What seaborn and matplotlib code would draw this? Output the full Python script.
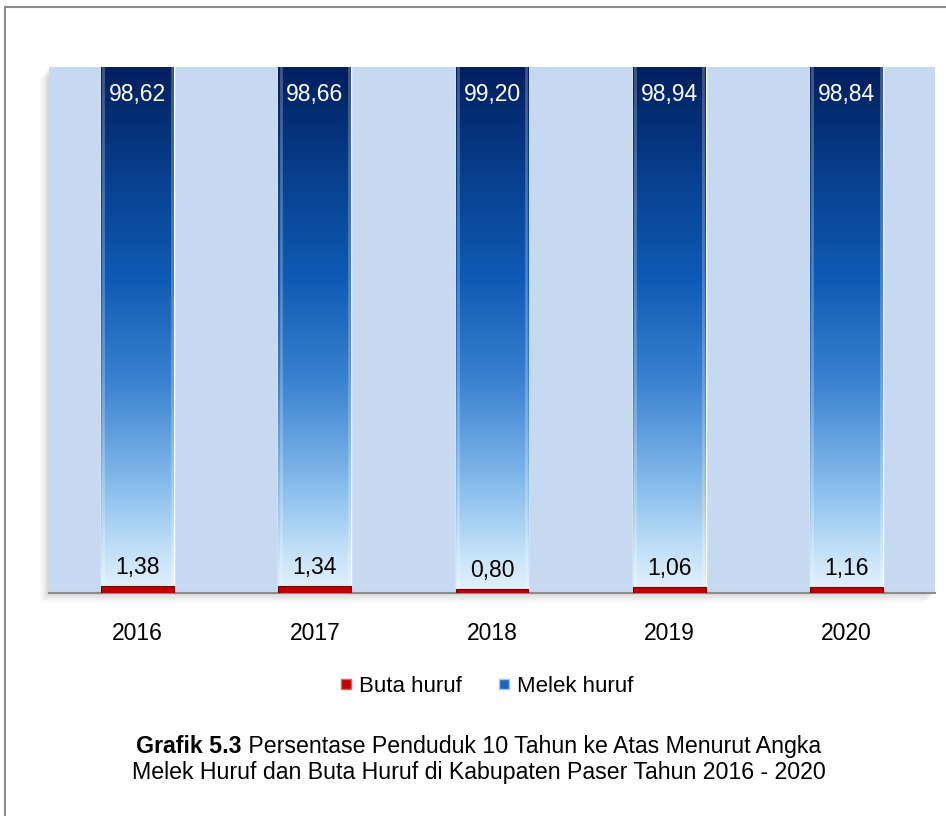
import warnings
warnings.simplefilter(action='ignore', category=UserWarning)

import matplotlib.pyplot as plt
import seaborn as sns
import numpy as np
import pandas as pd
from matplotlib.colors import LinearSegmentedColormap
from matplotlib.patches import Rectangle
from matplotlib.lines import Line2D

years = ["2016", "2017", "2018", "2019", "2020"]
buta = [1.38, 1.34, 0.80, 1.06, 1.16]
melek = [98.62, 98.66, 99.20, 98.94, 98.84]

sns.set_theme(style="white")
plt.rcParams['font.family'] = ['Liberation Sans', 'DejaVu Sans']
plt.rcParams['text.color'] = 'black'

df = pd.DataFrame({"Tahun": years, "Buta huruf": buta, "Melek huruf": melek})
df["Total"] = df["Buta huruf"] + df["Melek huruf"]

fig = plt.figure(figsize=(9.46, 8.16), dpi=100)

# frame around the figure
fig.add_artist(Line2D([0.0053, 0.0053], [0.0, 0.9914], color="#8c8c8c", lw=1.5))
fig.add_artist(Line2D([0.0053, 1.0], [0.9914, 0.9914], color="#8c8c8c", lw=1.5))

ax = fig.add_axes([0.0518, 0.2733, 0.9366, 0.6446])

# soft shadow behind the plot area
for i, a in enumerate([0.05, 0.04, 0.03, 0.02, 0.01]):
    d = 0.002 * (i + 1)
    fig.patches.append(Rectangle((0.0518 - d, 0.2733 - 1.4 * d), 0.9366, 0.6446,
                                 transform=fig.transFigure, color="black", alpha=a,
                                 zorder=-1, lw=0))

ax.set_facecolor("#c6d9f0")

# full bars (melek on top of buta) then buta at the base
sns.barplot(data=df, x="Tahun", y="Total", color="#0b4ea2", width=0.41, ax=ax,
            saturation=1)
sns.barplot(data=df, x="Tahun", y="Buta huruf", color="#c00000", width=0.41, ax=ax,
            saturation=1, edgecolor="#7a0000", linewidth=0.8)

cmap = LinearSegmentedColormap.from_list("melek", [
    (0.0, "#e4f2fc"), (0.08, "#c2e0f8"), (0.2, "#88bdec"), (0.4, "#3b82d0"),
    (0.6, "#0f5ab4"), (0.8, "#073f8c"), (1.0, "#021f5f")])
grad = np.linspace(0, 1, 256).reshape(-1, 1)
for p in ax.containers[0]:
    x0, y0, w, h = p.get_x(), p.get_y(), p.get_width(), p.get_height()
    im = ax.imshow(grad, cmap=cmap, origin="lower", aspect="auto",
                   extent=(x0, x0 + w, y0, y0 + h), zorder=2)
    im.set_clip_path(p)
    p.set_facecolor("none")
    # light bevel on the bar sides
    ax.plot([x0 + 0.012, x0 + 0.012], [y0, y0 + h], color="white", alpha=0.25, lw=2, zorder=3)
    ax.plot([x0 + w - 0.012, x0 + w - 0.012], [y0, y0 + h], color="white", alpha=0.25, lw=2, zorder=3)
for p in ax.containers[1]:
    p.set_zorder(4)

ax.set_xlim(-0.5, len(years) - 0.5)
ax.set_ylim(0, 100)

ax.bar_label(ax.containers[0], labels=[f"{v:.2f}".replace(".", ",") for v in melek],
             padding=-28, color="white", fontsize=16.5, zorder=5)
ax.bar_label(ax.containers[1], labels=[f"{v:.2f}".replace(".", ",") for v in buta],
             padding=5, color="black", fontsize=16.5, zorder=5)

for s in ["top", "right", "left"]:
    ax.spines[s].set_visible(False)
ax.spines["bottom"].set_color("#8c8c8c")
ax.spines["bottom"].set_linewidth(1.5)
ax.set_yticks([])
ax.set_xlabel("")
ax.set_ylabel("")
ax.tick_params(axis="x", length=0, pad=21, labelsize=16.5, labelcolor="black")

handles = [Line2D([], [], marker="s", ls="", markersize=7.5, markerfacecolor="#c00000",
                  markeredgecolor="#e06060", label="Buta huruf"),
           Line2D([], [], marker="s", ls="", markersize=7.5, markerfacecolor="#1a66c0",
                  markeredgecolor="#9cc8ee", label="Melek huruf")]
fig.legend(handles=handles, loc="center", bbox_to_anchor=(0.513, 0.159), ncol=2,
           frameon=False, fontsize=16, handlelength=0.8, handletextpad=0.2,
           columnspacing=1.5, labelcolor="black")

# caption with bold prefix
fig.canvas.draw()
r = fig.canvas.get_renderer()
t1 = fig.text(0, 0.0857, "Grafik 5.3", fontsize=16.7, fontweight="bold", va="center",
              color="black")
t2 = fig.text(0, 0.0857, " Persentase Penduduk 10 Tahun ke Atas Menurut Angka",
              fontsize=16.7, va="center", color="black")
w1 = t1.get_window_extent(r).width / fig.bbox.width
w2 = t2.get_window_extent(r).width / fig.bbox.width
start = 0.506 - (w1 + w2) / 2
t1.set_x(start)
t2.set_x(start + w1)
fig.text(0.506, 0.0527, "Melek Huruf dan Buta Huruf di Kabupaten Paser Tahun 2016 - 2020",
         fontsize=16.7, ha="center", va="center", color="black")

plt.savefig("out.png", dpi=100)
plt.close()
